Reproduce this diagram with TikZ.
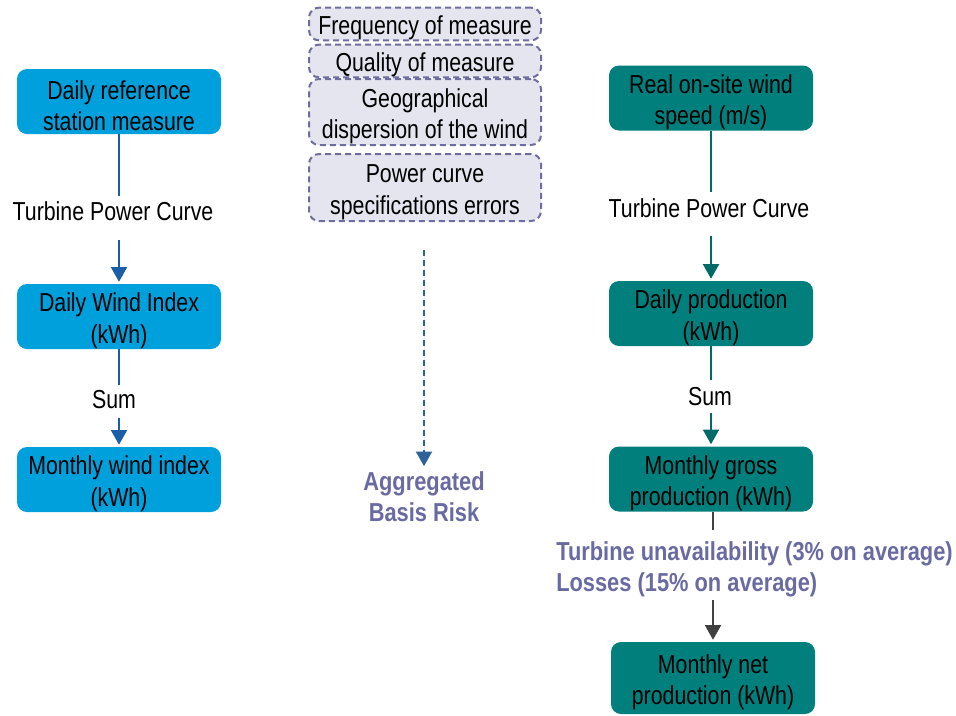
\documentclass[tikz,border=0pt]{standalone}
\usepackage{fontspec}
\setmainfont{Liberation Sans}[FakeStretch=0.82, BoldFeatures={FakeStretch=0.84}]
\usetikzlibrary{arrows.meta}
\definecolor{boxblue}{HTML}{00A0DC}
\definecolor{boxteal}{HTML}{007F7D}
\definecolor{arrblue}{HTML}{1A5EA8}
\definecolor{arrteal}{HTML}{006A68}
\definecolor{arrgrey}{HTML}{404040}
\definecolor{dashborder}{HTML}{6D6DA0}
\definecolor{dashfill}{HTML}{E5E5EF}
\definecolor{dasharr}{HTML}{2E6399}
\definecolor{risktext}{HTML}{6A6AA2}
\newcommand\boxstrut{\rule{0pt}{20.5pt}}
\tikzset{
  base/.style={font=\fontsize{19.5}{23.5}\selectfont, align=center, inner sep=0pt},
  flowbox/.style={base, rounded corners=7.5pt, minimum width=153pt, minimum height=48.75pt, text=black},
  bluebox/.style={flowbox, fill=boxblue},
  tealbox/.style={flowbox, fill=boxteal},
  riskbox/.style={base, rounded corners=7.5pt, minimum width=174pt, draw=dashborder, fill=dashfill,
    line width=1.5pt, dash pattern=on 4.5pt off 3pt},
  lbl/.style={base, text=black},
  purplelbl/.style={base, text=risktext, font=\fontsize{19.5}{23.5}\selectfont\bfseries},
  tip/.style={-{Triangle[width=12pt,length=11pt]}, shorten >=1.5pt},
  blueline/.style={draw=arrblue, line width=1.5pt},
  tealline/.style={draw=arrteal, line width=1.5pt},
  greyline/.style={draw=arrgrey, line width=1.5pt},
}
\begin{document}
\begin{tikzpicture}[x=0.75pt, y=-0.75pt]
\useasboundingbox (0,0) rectangle (956,715);
\begin{scope}
\clip (0,0) rectangle (956,715);
% left column
\node[bluebox] (b1) at (119,101.5) {\boxstrut Daily reference\\station measure};
\node[lbl] (lt1) at (113,211) {Turbine Power Curve};
\node[bluebox] (b2) at (119,316.5) {\boxstrut Daily Wind Index\\(kWh)};
\node[lbl] (ls1) at (114,400) {Sum};
\node[bluebox] (b3) at (119,479.5) {\boxstrut Monthly wind index\\(kWh)};
\coordinate (l1a) at (119,196);
\coordinate (l1b) at (119,240);
\coordinate (l2a) at (119,385);
\coordinate (l2b) at (119,418);
\draw[blueline] (b1) -- (l1a);
\draw[blueline, tip, fill=arrblue] (l1b) -- (b2);
\draw[blueline] (b2) -- (l2a);
\draw[blueline, tip, fill=arrblue] (l2b) -- (b3);

% middle column
\node[riskbox, minimum height=24pt] (m1) at (425,24) {\boxstrut Frequency of measure};
\node[riskbox, minimum height=22.5pt] (m2) at (425,61) {\boxstrut Quality of measure};
\node[riskbox, minimum height=49.5pt] (m3) at (425,112) {\boxstrut Geographical\\dispersion of the wind};
\node[riskbox, minimum height=50.25pt] (m4) at (425,187.5) {\boxstrut Power curve\\specifications errors};
\node[purplelbl] (agg) at (424,497) {Aggregated\\Basis Risk};
\coordinate (da) at (424,250);
\draw[draw=dasharr, line width=1.5pt, dash pattern=on 4.5pt off 3pt,
  -{Triangle[width=12pt,length=11pt]}, fill=dasharr, shorten >=4pt] (da) -- (agg);

% right column
\node[tealbox] (r1) at (711,98) {\boxstrut Real on-site wind\\speed (m/s)};
\node[lbl] (rt1) at (709,208) {Turbine Power Curve};
\node[tealbox] (r2) at (711,313.5) {\boxstrut Daily production\\(kWh)};
\node[lbl] (rs1) at (710,397) {Sum};
\node[tealbox] (r3) at (711,479) {\boxstrut Monthly gross\\production (kWh)};
\node[purplelbl, align=left, anchor=west] (loss) at (556,569.5) {Turbine unavailability (3\% on average)\\Losses (15\% on average)};
\node[tealbox, minimum height=54pt, minimum width=153pt] (r4) at (713,678) {\boxstrut Monthly net\\production (kWh)};
\coordinate (r1a) at (711,192);
\coordinate (r1b) at (711,236);
\coordinate (r2a) at (711,380);
\coordinate (r2b) at (711,413);
\coordinate (r3a) at (713,530);
\coordinate (r3b) at (713,600);
\draw[tealline] (r1) -- (r1a);
\draw[tealline, tip, fill=arrteal] (r1b) -- (r2);
\draw[tealline] (r2) -- (r2a);
\draw[tealline, tip, fill=arrteal] (r2b) -- (r3);
\draw[greyline] (r3.south -| r3a) -- (r3a);
\draw[greyline, tip, fill=arrgrey] (r3b) -- (r4);
\end{scope}
\end{tikzpicture}
\end{document}
